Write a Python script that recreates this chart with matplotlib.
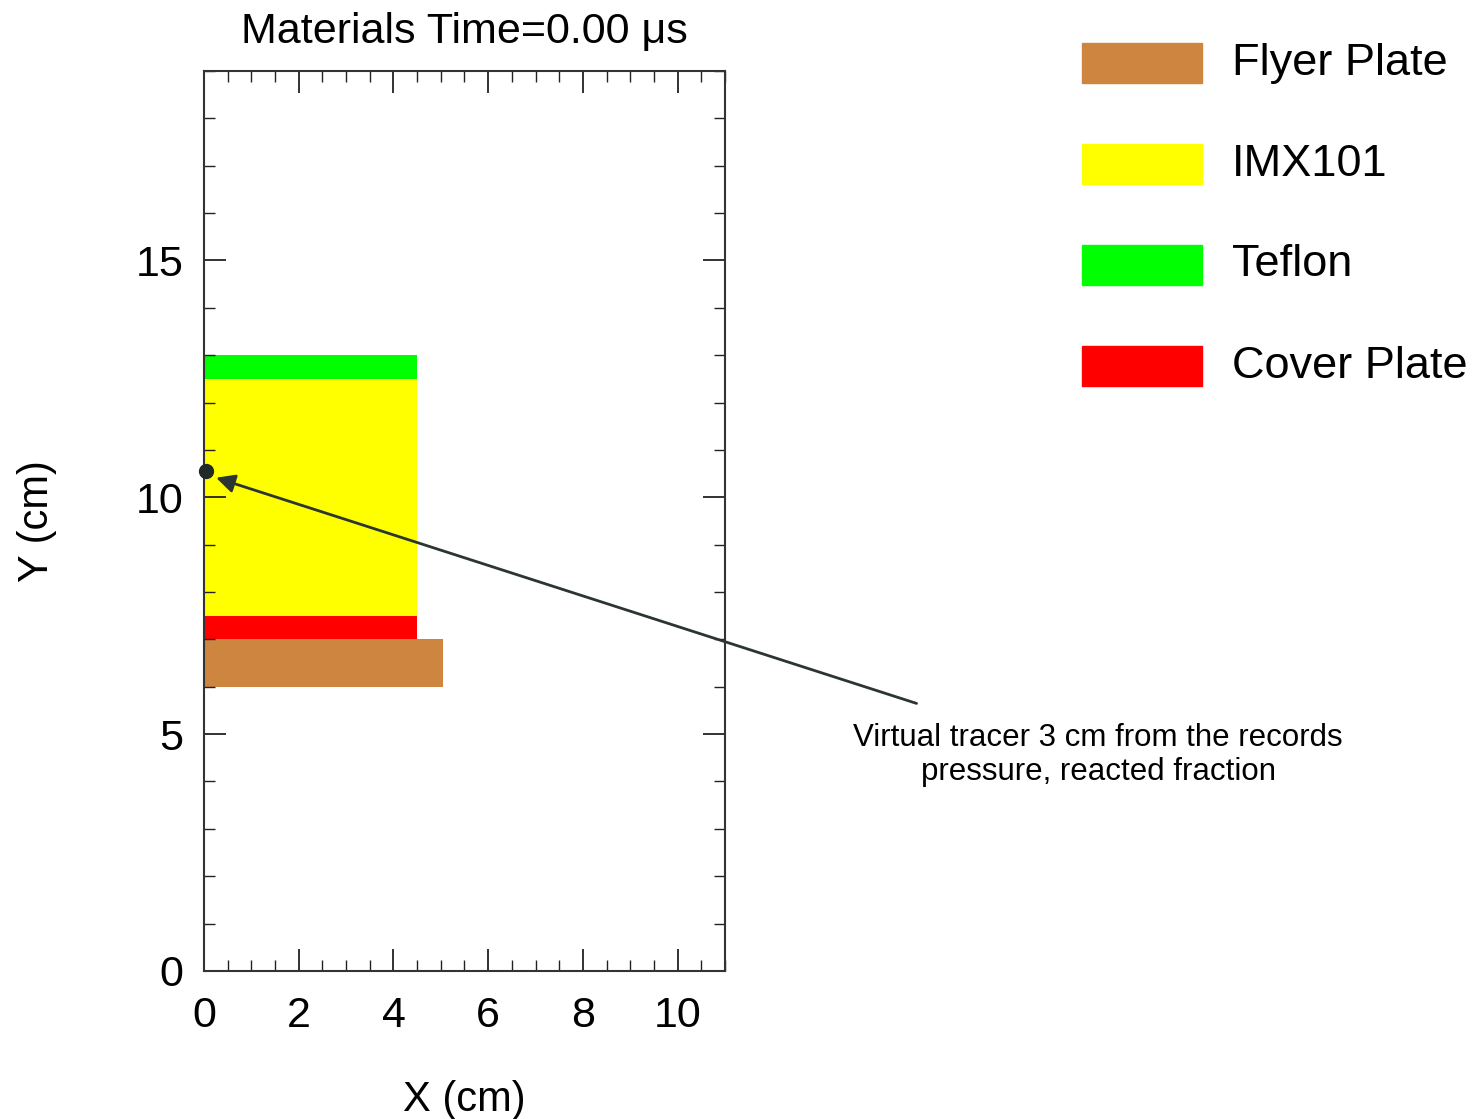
import matplotlib
matplotlib.use("Agg")
import matplotlib.pyplot as plt
from matplotlib.patches import Rectangle
from matplotlib.ticker import MultipleLocator

plt.rcParams['font.family'] = ['Liberation Sans', 'DejaVu Sans']

# material blocks (cm)
materials = ['Flyer Plate', 'IMX101', 'Teflon', 'Cover Plate']
colors = ['#CD853F', '#FFFF00', '#00FF00', '#FF0000']
x_right = [5.05, 4.5, 4.5, 4.5]
y_bottom = [6.0, 7.5, 12.5, 7.0]
y_top = [7.0, 12.5, 13.0, 7.5]

# virtual tracer
tracer_x, tracer_y = 0.05, 10.55
note_xy = (15.1, 5.63)
note_text = 'Virtual tracer 3 cm from the records\npressure, reacted fraction'

fig = plt.figure(figsize=(14.76, 11.19), dpi=100)
ax = fig.add_axes([0.1382, 0.1323, 0.3530, 0.8043])

for name, c, xr, yb, yt in zip(materials, colors, x_right, y_bottom, y_top):
    ax.bar(0, yt - yb, width=xr, bottom=yb, align='edge', color=c, edgecolor='none')

ax.plot(tracer_x, tracer_y, 'o', color='#222a28', markersize=10, zorder=5, clip_on=False)
ax.annotate('', xy=(tracer_x + 0.15, tracer_y - 0.12), xytext=note_xy,
            arrowprops=dict(arrowstyle='-|>', color='#2b3633', lw=2, mutation_scale=28),
            annotation_clip=False)
ax.text(18.88, 4.56, note_text, ha='center', va='center', fontsize=22.5,
        linespacing=1.2, clip_on=False)

ax.set_xlim(0, 11)
ax.set_ylim(0, 19)
ax.xaxis.set_major_locator(MultipleLocator(2))
ax.xaxis.set_minor_locator(MultipleLocator(0.5))
ax.yaxis.set_major_locator(MultipleLocator(5))
ax.yaxis.set_minor_locator(MultipleLocator(1))
ax.tick_params(which='both', direction='in', top=True, right=True, colors='#222222',
               labelcolor='black')
ax.tick_params(which='major', length=16, width=1.3, labelsize=31, pad=18)
ax.tick_params(axis='y', which='major', pad=15)
ax.tick_params(which='minor', length=8, width=1.0)
for s in ax.spines.values():
    s.set_linewidth(1.5)
    s.set_color('#333333')

ax.set_title('Materials Time=0.00 \u03bcs', fontsize=31, pad=20)
ax.set_xlabel('X (cm)', fontsize=30, labelpad=32)
ax.set_ylabel('Y (cm)', fontsize=30, labelpad=56)

# legend drawn in figure pixels
W, H = 1476, 1119
for i, (name, c) in enumerate(zip(materials, colors)):
    top = 43 + i * 101
    fig.patches.append(Rectangle((1082 / W, 1 - (top + 40) / H), 120 / W, 40 / H,
                                 transform=fig.transFigure, color=c))
    fig.text(1232 / W, 1 - (top + 20) / H, name, fontsize=32.5, va='center', ha='left')

fig.savefig('out.png', dpi=100)
